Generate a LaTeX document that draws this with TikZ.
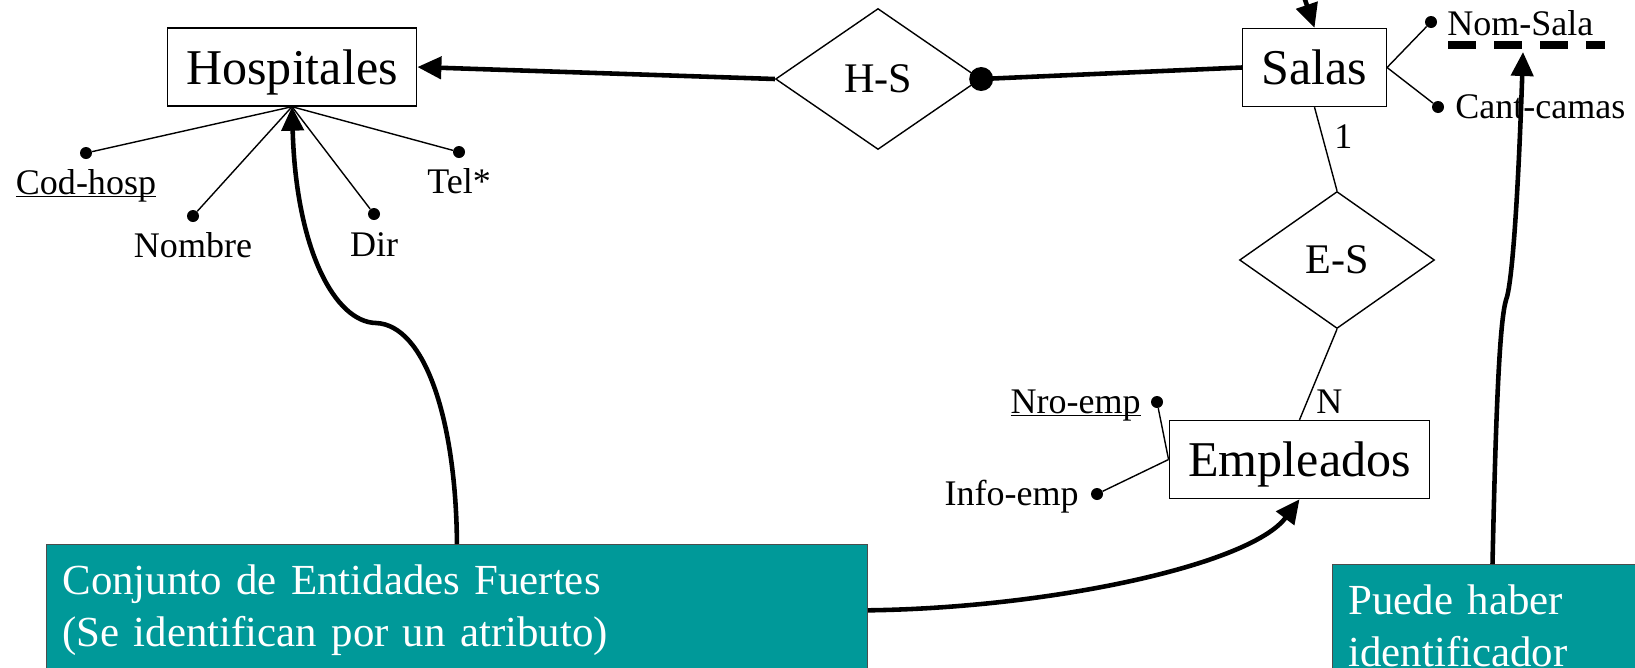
\documentclass[tikz,border=0pt]{standalone}
\usepackage{fontspec}
\setmainfont{Liberation Serif}
\usepackage{tikz}
\usetikzlibrary{arrows.meta, positioning, shapes.geometric}

\definecolor{verdeazul}{RGB}{0,153,153}
\newcommand{\fgrande}{\fontsize{28.5}{34}\selectfont}
\newcommand{\fmedia}{\fontsize{24}{28}\selectfont}
\newcommand{\fchica}{\fontsize{20.5}{24}\selectfont}
\newcommand{\fnota}{\fontsize{24.4}{30}\selectfont}
\newcommand{\clave}[1]{\underline{\smash{#1}}}

\tikzset{
  entidad/.style={draw, line width=0.8pt, inner xsep=0.38cm, text depth=0pt, minimum height=1.56cm, font=\fgrande},
  relacion/.style={draw, diamond, line width=0.8pt, inner sep=0pt, minimum width=3.9cm, minimum height=2.74cm, font=\fmedia},
  punto/.style={circle, fill, inner sep=0pt, minimum size=0.24cm},
  atrib/.style={inner sep=0pt, font=\fchica},
  fino/.style={line width=0.8pt},
  grueso/.style={line width=2.6pt},
  flecha/.style={grueso, -{Triangle[length=0.48cm,width=0.44cm]}},
  nota/.style={draw=black!70, line width=0.6pt, fill=verdeazul, text=white, align=left, inner xsep=0.32cm, inner ysep=0.4cm, font=\fnota, anchor=north west}
}

\begin{document}
\begin{tikzpicture}[x=0.02cm, y=-0.02cm]
\useasboundingbox (0,0) rectangle (1635,667);
% the entity sets
\node[entidad] (hosp) at (292,67) {Hospitales};
\node[entidad] (salas) at (1314.5,67.5) {Salas};
\node[entidad] (emp) at (1299.5,459.5) {Empleados};
% the relationships
\node[relacion, minimum width=4.1cm, minimum height=2.82cm] (hs) at (878,79) {H-S};
\node[relacion] (es) at (1337,260) {E-S};
% H-S links, with the dot on the side of Salas
\draw[flecha] (hs.west) -- (hosp.east);
\draw[grueso] (hs.east) -- (salas.west);
\fill (hs.east) circle (0.24cm);
% E-S links and cardinalities
\draw[fino] (salas.south) -- (es.north);
\draw[fino] (es.south) -- (emp.north);
\node[atrib, anchor=base west] (card1) at (1334,148) {1};
\node[atrib, anchor=base west] (cardN) at (1316,413) {N};
% the arrow coming into Salas from above
\coordinate (arriba) at (1301,-12);
\draw[flecha] (arriba) -- (salas.north);
% attributes of Hospitales
\foreach \nom/\px/\py/\ly/\txt in {cod/86/153/194/\clave{Cod-hosp}, nbre/193/216/257/Nombre, dir/374/214/256/Dir, tel/459/152/193/Tel*}
{
  \node[punto] (p\nom) at (\px,\py) {};
  \draw[fino] (hosp.south) -- (p\nom);
  \node[atrib, anchor=base] (t\nom) at (\px,\ly) {\txt};
}
% attributes of Salas
\node[punto] (pnomsala) at (1431,22) {};
\node[punto] (pcant) at (1438,107) {};
\draw[fino] (salas.east) -- (pnomsala);
\draw[fino] (salas.east) -- (pcant);
\node[atrib, anchor=base west] (tnomsala) at (1447,35) {Nom-Sala};
\node[atrib, anchor=base west] (tcant) at (1455,118) {Cant-camas};
% partial key
\draw[line width=4.5pt, dash pattern=on 0.56cm off 0.36cm] (1448,45) -- (1605,45);
% attributes of Empleados
\node[punto] (pnro) at (1157,402) {};
\node[punto] (pinfo) at (1097,494) {};
\draw[fino] (emp.west) -- (pnro);
\draw[fino] (emp.west) -- (pinfo);
\node[atrib, anchor=base east] (tnro) at (1141,413) {\clave{Nro-emp}};
\node[atrib, anchor=base east] (tinfo) at (1079,505) {Info-emp};
% the notes
\node[nota, text width=15.78cm] (fuertes) at (46,544) {Conjunto de Entidades Fuertes\\(Se identifican por un atributo)};
\node[nota, text width=5.76cm] (puede) at (1332,564) {Puede haber\\identificador};
% arrows from the notes
\draw[flecha] (fuertes.north) .. controls (456,420) and (425,325) .. (376,323)
  .. controls (335,322) and (296,250) .. (hosp.south);
\draw[flecha] (fuertes.east) .. controls (1050,608) and (1250,565) .. (emp.south);
\coordinate (clave) at (1523,52);
\draw[flecha] (puede.north) .. controls (1496,400) and (1500,320) .. (1506,300)
  .. controls (1512,285) and (1518,200) .. (clave);
\end{tikzpicture}
\end{document}
